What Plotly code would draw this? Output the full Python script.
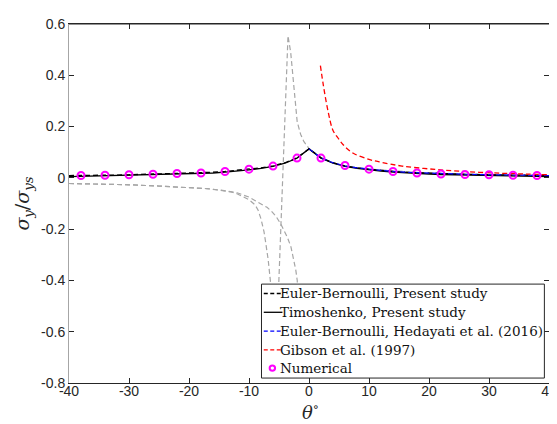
import plotly.graph_objects as go

# ---- data ----
theta_model = [-40, -38, -36, -34, -32, -30, -28, -26, -24, -22, -20, -18, -16, -14, -12, -10, -8, -6, -4, -2,
               0, 2, 4, 6, 8, 10, 12, 14, 16, 18, 20, 22, 24, 26, 28, 30, 32, 34, 36, 38, 40]
eb_present = [0.009, 0.009, 0.010, 0.010, 0.011, 0.012, 0.013, 0.014, 0.015, 0.016, 0.018, 0.020, 0.022, 0.025,
              0.029, 0.034, 0.039, 0.047, 0.059, 0.078,
              0.113, 0.078, 0.059, 0.047, 0.039, 0.034, 0.029, 0.025, 0.022, 0.020, 0.018, 0.016, 0.015, 0.014,
              0.013, 0.012, 0.011, 0.010, 0.010, 0.009, 0.009]
timoshenko = [0.005, 0.006, 0.006, 0.007, 0.008, 0.009, 0.010, 0.011, 0.012, 0.013, 0.015, 0.017, 0.019, 0.022,
              0.026, 0.031, 0.037, 0.045, 0.057, 0.077,
              0.113, 0.077, 0.057, 0.045, 0.037, 0.031, 0.026, 0.022, 0.019, 0.017, 0.015, 0.013, 0.012, 0.011,
              0.010, 0.009, 0.008, 0.007, 0.006, 0.006, 0.005]

theta_hed = [0, 2, 4, 6, 8, 10, 12, 14, 16, 18, 20, 22, 24, 26, 28, 30, 32, 34, 36, 38, 40]
hedayati = [0.113, 0.078, 0.059, 0.047, 0.039, 0.034, 0.029, 0.025, 0.022, 0.020, 0.018, 0.016, 0.015, 0.014,
            0.013, 0.012, 0.011, 0.010, 0.010, 0.009, 0.009]

theta_gib = [1.9, 2.4, 3.2, 4.0, 5.0, 5.7, 7.3, 10, 12, 15.5, 21, 26.5, 32, 36, 40]
gibson = [0.438, 0.36, 0.257, 0.185, 0.150, 0.129, 0.097, 0.072, 0.061, 0.046, 0.033, 0.024, 0.018, 0.015, 0.012]

theta_num = [-38, -34, -30, -26, -22, -18, -14, -10, -6, -2, 2, 6, 10, 14, 18, 22, 26, 30, 34, 38]
numerical = [0.009, 0.010, 0.012, 0.014, 0.017, 0.019, 0.025, 0.034, 0.046, 0.077,
             0.077, 0.048, 0.034, 0.025, 0.019, 0.015, 0.013, 0.012, 0.010, 0.009]

# grey (unlabelled) curves
theta_g1 = [-5.18, -3.5, -3.05, -2.5, -1.97, -1.4, -0.87, -0.05, 2, 4, 6, 10, 20, 30, 40]
grey1 = [-0.50, 0.554, 0.489, 0.347, 0.219, 0.17, 0.142, 0.116, 0.078, 0.059, 0.047, 0.034, 0.018, 0.012, 0.009]

theta_g2 = [-40, -35, -30, -25, -20, -17, -15, -13, -12, -11, -10, -9, -8.5, -8, -7.5, -7.2, -6.8, -6.4, -6.2]
grey2 = [-0.022, -0.024, -0.027, -0.032, -0.037, -0.042, -0.048, -0.055, -0.062, -0.072, -0.085, -0.105,
         -0.125, -0.16, -0.21, -0.255, -0.32, -0.41, -0.50]

theta_g3 = [-40, -35, -30, -25, -20, -17, -15, -13, -12, -10, -9, -8, -7, -6.3, -5.5, -4.7, -4, -3.6, -3,
            -2.5, -2.2, -1.96, -1.8]
grey3 = [-0.022, -0.024, -0.027, -0.032, -0.037, -0.042, -0.047, -0.053, -0.058, -0.075, -0.088, -0.100,
         -0.115, -0.129, -0.15, -0.18, -0.21, -0.232, -0.27, -0.32, -0.36, -0.40, -0.50]

x_ticks = [-40, -30, -20, -10, 0, 10, 20, 30, 40]
x_tick_labels = ["-40", "-30", "-20", "-10", "0", "10", "20", "30", "40"]
y_ticks = [0.6, 0.4, 0.2, 0, -0.2, -0.4, -0.6, -0.8]
y_tick_labels = ["0.6", "0.4", "0.2", "0", "-0.2", "-0.4", "-0.6", "-0.8"]

legend_labels = ["Euler-Bernoulli, Present study", "Timoshenko, Present study",
                 "Euler-Bernoulli, Hedayati et al. (2016)", "Gibson et al. (1997)", "Numerical"]

DASH = "5px,3px"
GREY = "#a6a6a6"
SERIF = "DejaVu Serif"
W, H = 557, 424
ML, MR, MT, MB = 61, 8, 12, 49
PW, PH = W - ML - MR, H - MT - MB


def px(x):
    return (x - ML) / PW


def py(y):
    return (H - MB - y) / PH


fig = go.Figure()
for tx, ty in [(theta_g1, grey1), (theta_g2, grey2), (theta_g3, grey3)]:
    fig.add_trace(go.Scatter(x=tx, y=ty, mode="lines", showlegend=False, hoverinfo="skip",
                             line=dict(color=GREY, width=1.2, dash=DASH)))

fig.add_trace(go.Scatter(x=theta_model, y=timoshenko, mode="lines", name=legend_labels[1],
                         line=dict(color="black", width=1.3)))
fig.add_trace(go.Scatter(x=theta_model, y=eb_present, mode="lines", name=legend_labels[0],
                         line=dict(color="black", width=1.3, dash=DASH)))
fig.add_trace(go.Scatter(x=theta_hed, y=hedayati, mode="lines", name=legend_labels[2],
                         line=dict(color="#0000ff", width=1.2, dash=DASH)))
fig.add_trace(go.Scatter(x=theta_gib, y=gibson, mode="lines", name=legend_labels[3],
                         line=dict(color="#ff0000", width=1.3, dash=DASH, shape="spline")))
fig.add_trace(go.Scatter(x=theta_num, y=numerical, mode="markers", name=legend_labels[4],
                         marker=dict(symbol="circle-open", color="#ff00ff", size=7, line=dict(width=2))))

# ---- hand-drawn legend box (MATLAB style) ----
fig.add_shape(type="rect", xref="paper", yref="paper", x0=px(256.7), x1=px(544.3), y0=py(370), y1=py(275),
              line=dict(color="#262626", width=1), fillcolor="white", layer="above")
row_y = [284.5, 303.5, 322.5, 341.5, 360]
sym = [("black", "dash"), ("black", "solid"), ("#0000ff", "dash"), ("#ff0000", "dash")]
for i, (c, d) in enumerate(sym):
    fig.add_shape(type="line", xref="paper", yref="paper", x0=px(259), x1=px(278), y0=py(row_y[i]),
                  y1=py(row_y[i]), line=dict(color=c, width=1.3, dash=("4px,2.5px" if d == "dash" else "solid")),
                  layer="above")
fig.add_shape(type="circle", xref="paper", yref="paper", x0=px(265), x1=px(270.5), y0=py(362.7),
              y1=py(357.2), line=dict(color="#ff00ff", width=2), layer="above")
for i, lab in enumerate(legend_labels):
    fig.add_annotation(text=lab, xref="paper", yref="paper", x=px(273), y=py(row_y[i]), xanchor="left",
                       yanchor="middle", showarrow=False,
                       font=dict(family=SERIF, size=13.5, color="#111111"))

# x-axis title
fig.add_annotation(text="<i>θ</i><sup>∘</sup>", xref="paper", yref="paper", x=px(307), y=py(403),
                   xanchor="center", yanchor="middle", showarrow=False,
                   font=dict(family=SERIF, size=18, color="#262626"))

fig.update_layout(
    width=W, height=H,
    margin=dict(l=ML, r=MR, t=MT, b=MB),
    paper_bgcolor="white", plot_bgcolor="white",
    font=dict(family="Liberation Sans", size=14, color="#262626"),
    showlegend=False,
    xaxis=dict(range=[-40, 40], tickvals=x_ticks, ticktext=x_tick_labels, ticks="inside", ticklen=5,
               tickcolor="#262626", showline=True, linecolor="#262626", linewidth=1, mirror="ticks",
               showgrid=False, zeroline=False, ticklabelstandoff=-5),
    yaxis=dict(range=[-0.8, 0.6], tickvals=y_ticks, ticktext=y_tick_labels, ticks="inside", ticklen=5,
               tickcolor="#262626", showline=True, linecolor="#a6a6a6", linewidth=1, mirror="ticks",
               showgrid=False, zeroline=False,
               title=dict(text="<i>σ</i><sub><i>y</i></sub>/<i>σ</i><sub><i>ys</i></sub>",
                          font=dict(family=SERIF, size=19, color="#262626"), standoff=6)),
)
# top axis line in black
fig.add_shape(type="line", xref="paper", yref="paper", x0=0, x1=1, y0=1, y1=1,
              line=dict(color="#262626", width=1))

fig.write_html("out.html")
